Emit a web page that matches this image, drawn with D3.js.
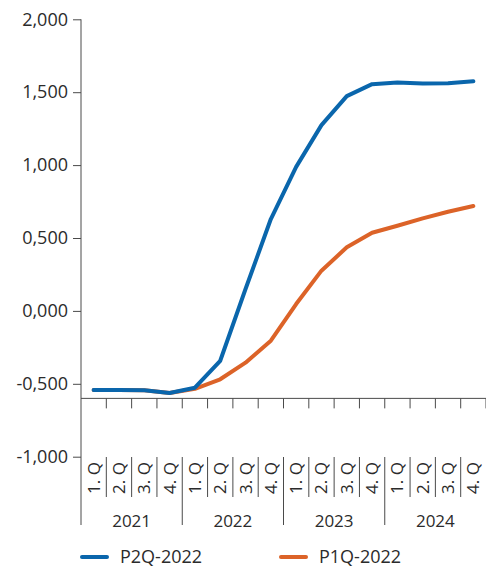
<!DOCTYPE html>
<html>
<head>
<meta charset="utf-8">
<script src="https://cdn.jsdelivr.net/npm/d3@7"></script>
<style>
  html, body { margin: 0; padding: 0; background: #fff; }
  svg { display: block; }
  text { font-family: "Open Sans", "Noto Sans", sans-serif; fill: #2b2b2b; }
</style>
</head>
<body>
<svg id="chart" width="486" height="567"></svg>
<script>
// Quarterly path, 2021 Q1 – 2024 Q4
const years = ["2021", "2022", "2023", "2024"];
const quarters = ["1. Q", "2. Q", "3. Q", "4. Q"];
const seriesNames = ["P2Q-2022", "P1Q-2022"];
const p2q2022 = [-0.543, -0.543, -0.545, -0.563, -0.527, -0.342, 0.150, 0.630,
                 0.988, 1.274, 1.473, 1.555, 1.566, 1.560, 1.562, 1.575];
const p1q2022 = [-0.543, -0.543, -0.545, -0.563, -0.534, -0.469, -0.355, -0.204,
                 0.047, 0.276, 0.436, 0.536, 0.584, 0.635, 0.680, 0.719];
const yTicks = [-1, -0.5, 0, 0.5, 1, 1.5, 2];
const colors = ["#0a66ac", "#dc6328"];

const periods = years.flatMap(y => quarters.map(q => y + " " + q));

const svg = d3.select("#chart");
const plotLeft = 81, plotRight = 486, plotTop = 19.3, plotBottom = 456.7;
const xAxisValue = -0.6;

const x = d3.scaleBand().domain(periods).range([plotLeft, plotRight]).paddingInner(0).paddingOuter(0);
const y = d3.scaleLinear().domain([-1, 2]).range([plotBottom, plotTop]);

const locale = d3.formatLocale({decimal: ",", thousands: ".", grouping: [3], currency: ["", ""], minus: "-"});
const fmt = locale.format(".3f");

const axisColor = "#4a4a4a";

// Y axis
const yAxis = svg.append("g")
  .attr("transform", `translate(${plotLeft},0)`)
  .call(d3.axisLeft(y).tickValues(yTicks).tickFormat(fmt).tickSize(8).tickPadding(5));
yAxis.select(".domain").remove();
yAxis.selectAll(".tick line").attr("stroke", axisColor);
yAxis.selectAll(".tick text").attr("font-size", 18).attr("fill", "#2b2b2b")
  .attr("font-family", "'Open Sans', 'Noto Sans', sans-serif");

const catTop = 457, quarterBottom = 497, yearBottom = 525;

svg.append("line")
  .attr("x1", plotLeft).attr("x2", plotLeft)
  .attr("y1", y(2)).attr("y2", yearBottom)
  .attr("stroke", axisColor).attr("stroke-width", 1);

// Horizontal axis at -0.6 with quarter ticks
const ax = y(xAxisValue);
svg.append("line")
  .attr("x1", plotLeft).attr("x2", plotRight)
  .attr("y1", ax).attr("y2", ax)
  .attr("stroke", axisColor).attr("stroke-width", 1);

const boundaries = d3.range(periods.length + 1).map(i => plotLeft + i * x.bandwidth());
svg.append("g").selectAll("line")
  .data(boundaries.slice(1))
  .join("line")
  .attr("x1", d => d).attr("x2", d => d)
  .attr("y1", ax).attr("y2", ax + 10)
  .attr("stroke", axisColor);

// Category separators: short between quarters, long between years
svg.append("g").selectAll("line")
  .data(d3.range(1, periods.length))
  .join("line")
  .attr("x1", i => boundaries[i]).attr("x2", i => boundaries[i])
  .attr("y1", catTop)
  .attr("y2", i => i % 4 === 0 ? yearBottom : quarterBottom)
  .attr("stroke", axisColor);

// Quarter labels (rotated)
svg.append("g").selectAll("text")
  .data(periods)
  .join("text")
  .attr("transform", d => `translate(${x(d) + x.bandwidth() / 2 + 6},${(catTop + quarterBottom) / 2 + 1}) rotate(-90)`)
  .attr("text-anchor", "middle")
  .attr("font-size", 17)
  .text((d, i) => quarters[i % 4]);

// Year labels
svg.append("g").selectAll("text")
  .data(years)
  .join("text")
  .attr("x", (d, i) => (x(d + " " + quarters[0]) + x(d + " " + quarters[3]) + x.bandwidth()) / 2)
  .attr("y", 527)
  .attr("text-anchor", "middle")
  .attr("font-size", 17)
  .text(d => d);

// Lines
const line = d3.line()
  .x((d, i) => x(periods[i]) + x.bandwidth() / 2)
  .y(d => y(d));

[p2q2022, p1q2022].slice().reverse().forEach((s, k) => {
  const idx = 1 - k;
  svg.append("path")
    .datum(s)
    .attr("d", line)
    .attr("fill", "none")
    .attr("stroke", colors[idx])
    .attr("stroke-width", 4)
    .attr("stroke-linejoin", "round")
    .attr("stroke-linecap", "round");
});

// Legend
const legendX = [82, 281];
seriesNames.forEach((name, i) => {
  const g = svg.append("g").attr("transform", `translate(${legendX[i]},557)`);
  g.append("line").attr("x1", 0).attr("x2", 25).attr("y1", 0).attr("y2", 0)
    .attr("stroke", colors[i]).attr("stroke-width", 4).attr("stroke-linecap", "round");
  g.append("text").attr("x", 38).attr("y", 5.5).attr("font-size", 18).text(name);
});
</script>
</body>
</html>
